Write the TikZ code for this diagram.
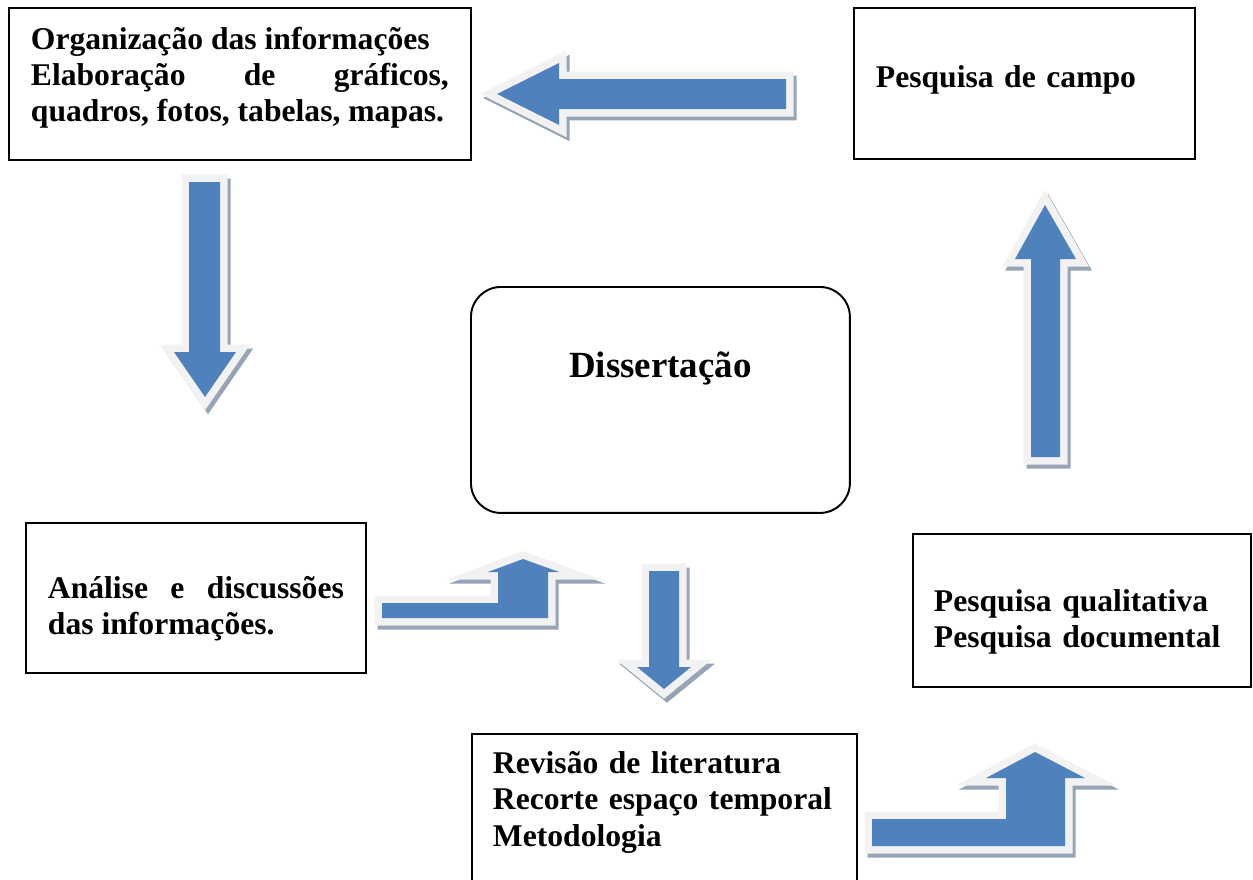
\documentclass[tikz,border=0pt]{standalone}
\usepackage{fontspec}
\setmainfont{Liberation Serif}
\hyphenpenalty=10000
\exhyphenpenalty=10000
\definecolor{arrowblue}{HTML}{4F81BD}
\definecolor{arrowrim}{HTML}{F2F2F2}
\definecolor{arrowshade}{HTML}{96A4B6}

\begin{document}
\begin{tikzpicture}[x=0.02cm, y=-0.02cm,
    every node/.style={font=\fontsize{18}{20.5}\selectfont\bfseries},
    box/.style={draw, line width=1.1pt, anchor=north west, inner ysep=0pt, inner xsep=0.44cm},
    blockarrow/.style={fill=arrowblue, line join=miter,
        preaction={draw=arrowshade, fill=arrowshade, line width=0.3cm, transform canvas={xshift=0.06cm, yshift=-0.08cm}},
        preaction={draw=arrowrim, fill=arrowrim, line width=0.3cm}}]
    \useasboundingbox (0,0) rectangle (1253,879);

    \node[box, text width=8.36cm, align=justify, text height=0.84cm, text depth=2.2cm] (organizacao) at (8,7)
        {Organização das informações\\ Elaboração de gráficos, quadros, fotos, tabelas, mapas.};
    \node[box, text width=5.94cm, align=left, text height=1.6cm, text depth=1.42cm] (campo) at (853,7)
        {Pesquisa de campo};
    \node[box, rounded corners=0.6cm, minimum width=7.58cm, text height=1.82cm, text depth=2.7cm,
        font=\fontsize{21}{24}\selectfont\bfseries] (dissertacao) at (470,286) {Dissertação};
    \node[box, text width=5.92cm, align=justify, text height=1.52cm, text depth=1.48cm] (analise) at (25,522)
        {Análise e discussões das informações.};
    \node[box, inner xsep=0.42cm, text width=5.92cm, align=left, text height=1.56cm, text depth=1.5cm] (qualitativa) at (912,533)
        {Pesquisa qualitativa\\ Pesquisa documental};
    \node[box, inner xsep=0.42cm, text width=6.86cm, align=left, text height=0.8cm, text depth=2.6cm] (revisao) at (471,733)
        {Revisão de literatura\\ Recorte espaço temporal\\ Metodologia};

    \path[blockarrow] (497,94) -- (559,63) -- (559,79) -- (786,79) -- (786,109) -- (559,109) -- (559,125) -- cycle;
    \path[blockarrow] (189,182) -- (220,182) -- (220,352) -- (236,352) -- (205,397) -- (174,352) -- (189,352) -- cycle;
    \path[blockarrow] (382,603) -- (498,603) -- (498,572) -- (488,572) -- (523,559) -- (559,572) -- (548,572) -- (548,618) -- (382,618) -- cycle;
    \path[blockarrow] (649,571) -- (679,571) -- (679,667) -- (691,667) -- (664,689) -- (637,667) -- (649,667) -- cycle;
    \path[blockarrow] (872,819) -- (1006,819) -- (1006,778) -- (986,778) -- (1035,752) -- (1085,778) -- (1065,778) -- (1065,846) -- (872,846) -- cycle;
    \path[blockarrow] (1031,457) -- (1031,259) -- (1015,259) -- (1045,205) -- (1076,259) -- (1060,259) -- (1060,457) -- cycle;
\end{tikzpicture}
\end{document}
